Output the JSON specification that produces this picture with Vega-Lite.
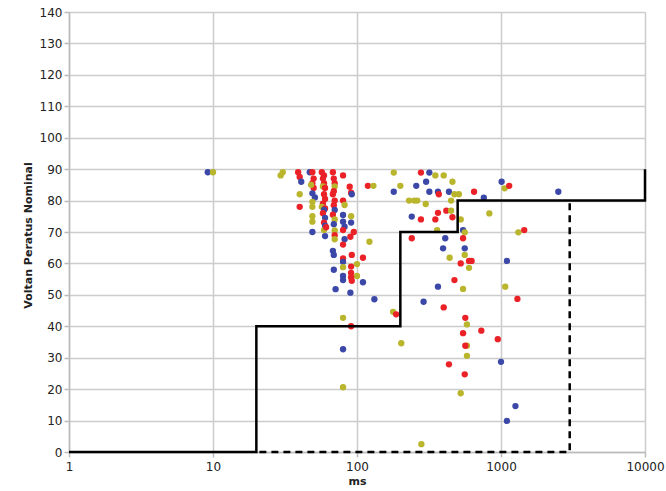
{
  "$schema": "https://vega.github.io/schema/vega-lite/v6.json",
  "width": 576,
  "height": 440,
  "autosize": {"type": "none"},
  "padding": {"left": 69, "top": 12, "right": 21, "bottom": 39},
  "background": "white",
  "config": {
    "view": {"stroke": null},
    "axis": {
      "gridColor": "#cccccc", "gridWidth": 1.5,
      "domainColor": "#bbbbbb", "domainWidth": 1.5,
      "tickColor": "#bbbbbb", "tickSize": 5, "tickWidth": 1.5,
      "labelFont": "DejaVu Sans", "labelFontSize": 12, "labelColor": "#222222",
      "titleFont": "DejaVu Sans", "titleFontSize": 11, "titleFontWeight": "bold", "titleColor": "#222222"
    }
  },
  "encoding": {
    "x": {
      "field": "ms", "type": "quantitative",
      "scale": {"type": "log", "domain": [1, 10000]},
      "axis": {"title": "ms", "values": [1, 10, 100, 1000, 10000], "format": "d", "labelPadding": 4, "titleY": 29, "titleBaseline": "middle", "labelFlush": false}
    },
    "y": {
      "field": "v", "type": "quantitative",
      "scale": {"domain": [0, 140], "nice": false, "zero": true},
      "axis": {"title": "Voltan Peratus Nominal", "values": [0,10,20,30,40,50,60,70,80,90,100,110,120,130,140], "labelPadding": 2, "titleX": -41, "titleY": 223, "titleBaseline": "middle", "titleAngle": -90, "titleAlign": "center"}
    }
  },
  "layer": [
    {
      "data": {"values": [
        {"ms": 9.2, "v": 89, "c": "b"}, {"ms": 10, "v": 89, "c": "y"}, {"ms": 29.5, "v": 88, "c": "y"}, {"ms": 30.5, "v": 89, "c": "y"},
        {"ms": 39, "v": 89, "c": "r"}, {"ms": 40, "v": 87.5, "c": "r"}, {"ms": 41, "v": 86, "c": "b"}, {"ms": 40, "v": 82, "c": "y"}, {"ms": 40, "v": 78, "c": "r"},
        {"ms": 47, "v": 89, "c": "b"}, {"ms": 49, "v": 89, "c": "r"}, {"ms": 50, "v": 87, "c": "r"}, {"ms": 49, "v": 85.5, "c": "r"}, {"ms": 50, "v": 84, "c": "r"}, {"ms": 48, "v": 85, "c": "y"}, {"ms": 49, "v": 82.3, "c": "b"}, {"ms": 51, "v": 81, "c": "b"}, {"ms": 49, "v": 79.6, "c": "y"}, {"ms": 49, "v": 78, "c": "y"}, {"ms": 49, "v": 75, "c": "y"}, {"ms": 49, "v": 73.3, "c": "y"}, {"ms": 49, "v": 70, "c": "b"},
        {"ms": 57, "v": 89, "c": "r"}, {"ms": 59, "v": 88, "c": "r"}, {"ms": 58, "v": 87, "c": "r"}, {"ms": 59, "v": 85.5, "c": "r"}, {"ms": 58, "v": 84.5, "c": "y"}, {"ms": 60, "v": 84, "c": "r"}, {"ms": 59, "v": 82, "c": "r"}, {"ms": 60, "v": 80.5, "c": "r"}, {"ms": 58, "v": 79, "c": "r"}, {"ms": 57, "v": 78, "c": "y"}, {"ms": 60, "v": 77.5, "c": "r"}, {"ms": 59, "v": 77, "c": "b"}, {"ms": 58, "v": 76, "c": "r"}, {"ms": 60, "v": 74.5, "c": "b"}, {"ms": 59, "v": 73, "c": "r"}, {"ms": 60, "v": 72, "c": "b"}, {"ms": 59, "v": 70.6, "c": "y"}, {"ms": 60, "v": 68.7, "c": "b"}, {"ms": 61, "v": 71.5, "c": "r"},
        {"ms": 68, "v": 89, "c": "r"}, {"ms": 69, "v": 87, "c": "r"}, {"ms": 70, "v": 85.5, "c": "r"}, {"ms": 70, "v": 84.5, "c": "y"}, {"ms": 69, "v": 83, "c": "r"}, {"ms": 68, "v": 82, "c": "r"}, {"ms": 70, "v": 80, "c": "r"}, {"ms": 69, "v": 78.5, "c": "r"}, {"ms": 70, "v": 77, "c": "b"}, {"ms": 68, "v": 75.5, "c": "r"}, {"ms": 70, "v": 74, "c": "y"}, {"ms": 69, "v": 72.5, "c": "b"}, {"ms": 70, "v": 70.5, "c": "y"}, {"ms": 70, "v": 69, "c": "r"}, {"ms": 70, "v": 67.7, "c": "y"}, {"ms": 68, "v": 64, "c": "b"}, {"ms": 69, "v": 62.7, "c": "b"}, {"ms": 69, "v": 58, "c": "b"}, {"ms": 71, "v": 51.8, "c": "b"},
        {"ms": 80, "v": 88, "c": "r"}, {"ms": 80, "v": 80, "c": "r"}, {"ms": 82, "v": 78.6, "c": "y"}, {"ms": 80, "v": 75.4, "c": "b"}, {"ms": 80, "v": 73.3, "c": "b"}, {"ms": 82, "v": 71.7, "c": "b"}, {"ms": 80, "v": 70.6, "c": "r"}, {"ms": 82, "v": 67.7, "c": "b"}, {"ms": 80, "v": 66, "c": "r"}, {"ms": 80, "v": 61.6, "c": "r"}, {"ms": 80, "v": 60.5, "c": "b"}, {"ms": 80, "v": 58.8, "c": "y"}, {"ms": 80, "v": 56, "c": "b"}, {"ms": 80, "v": 54.7, "c": "b"}, {"ms": 80, "v": 42.7, "c": "y"}, {"ms": 80, "v": 32.7, "c": "b"}, {"ms": 80, "v": 20.6, "c": "y"},
        {"ms": 89, "v": 84.4, "c": "r"}, {"ms": 91, "v": 82.5, "c": "r"}, {"ms": 92, "v": 82, "c": "b"}, {"ms": 91, "v": 75, "c": "y"}, {"ms": 91, "v": 73, "c": "b"}, {"ms": 95, "v": 70, "c": "r"}, {"ms": 90, "v": 68.5, "c": "r"}, {"ms": 92, "v": 62.7, "c": "r"}, {"ms": 100, "v": 59.8, "c": "y"}, {"ms": 91, "v": 59, "c": "r"}, {"ms": 91, "v": 57, "c": "r"}, {"ms": 100, "v": 56, "c": "y"}, {"ms": 91, "v": 55.6, "c": "r"}, {"ms": 92, "v": 54.5, "c": "r"}, {"ms": 90, "v": 50.7, "c": "b"}, {"ms": 91, "v": 40, "c": "r"},
        {"ms": 110, "v": 61.8, "c": "r"}, {"ms": 110, "v": 54, "c": "b"}, {"ms": 119, "v": 84.7, "c": "r"}, {"ms": 130, "v": 84.7, "c": "y"}, {"ms": 122, "v": 66.9, "c": "y"}, {"ms": 132, "v": 48.6, "c": "b"},
        {"ms": 180, "v": 88.9, "c": "y"}, {"ms": 200, "v": 84.7, "c": "y"}, {"ms": 180, "v": 82.8, "c": "b"}, {"ms": 178, "v": 44.6, "c": "y"}, {"ms": 187, "v": 43.8, "c": "r"}, {"ms": 203, "v": 34.6, "c": "y"},
        {"ms": 230, "v": 80, "c": "y"}, {"ms": 250, "v": 80, "c": "y"}, {"ms": 262, "v": 80, "c": "y"}, {"ms": 240, "v": 74.9, "c": "b"}, {"ms": 240, "v": 68, "c": "r"}, {"ms": 278, "v": 88.9, "c": "r"}, {"ms": 318, "v": 88.9, "c": "b"}, {"ms": 302, "v": 86, "c": "b"}, {"ms": 258, "v": 84.7, "c": "b"}, {"ms": 318, "v": 82.8, "c": "b"}, {"ms": 278, "v": 74, "c": "r"}, {"ms": 290, "v": 47.8, "c": "b"}, {"ms": 300, "v": 78.9, "c": "y"}, {"ms": 280, "v": 2.5, "c": "y"},
        {"ms": 350, "v": 88, "c": "y"}, {"ms": 400, "v": 88, "c": "y"}, {"ms": 365, "v": 82.8, "c": "b"}, {"ms": 370, "v": 82, "c": "r"}, {"ms": 435, "v": 82.8, "c": "b"}, {"ms": 475, "v": 82, "c": "y"}, {"ms": 460, "v": 86, "c": "y"}, {"ms": 450, "v": 80, "c": "y"}, {"ms": 350, "v": 74, "c": "r"}, {"ms": 365, "v": 76.1, "c": "r"}, {"ms": 417, "v": 76.8, "c": "r"}, {"ms": 460, "v": 74.7, "c": "r"}, {"ms": 450, "v": 76.8, "c": "y"}, {"ms": 360, "v": 70.6, "c": "y"}, {"ms": 410, "v": 68, "c": "b"}, {"ms": 396, "v": 64.8, "c": "b"}, {"ms": 440, "v": 61.8, "c": "y"}, {"ms": 475, "v": 54.7, "c": "r"}, {"ms": 365, "v": 52.6, "c": "b"}, {"ms": 400, "v": 46, "c": "r"}, {"ms": 435, "v": 27.9, "c": "r"},
        {"ms": 510, "v": 82, "c": "y"}, {"ms": 525, "v": 74, "c": "y"}, {"ms": 545, "v": 70.6, "c": "b"}, {"ms": 560, "v": 69.9, "c": "y"}, {"ms": 545, "v": 68, "c": "r"}, {"ms": 560, "v": 64.8, "c": "b"}, {"ms": 560, "v": 62.7, "c": "y"}, {"ms": 525, "v": 60, "c": "r"}, {"ms": 600, "v": 60.8, "c": "r"}, {"ms": 625, "v": 60.8, "c": "r"}, {"ms": 600, "v": 58.6, "c": "y"}, {"ms": 545, "v": 51.9, "c": "y"}, {"ms": 565, "v": 42.7, "c": "r"}, {"ms": 580, "v": 40.6, "c": "y"}, {"ms": 545, "v": 37.8, "c": "r"}, {"ms": 580, "v": 33.8, "c": "y"}, {"ms": 565, "v": 33.8, "c": "r"}, {"ms": 580, "v": 30.6, "c": "y"}, {"ms": 560, "v": 24.7, "c": "r"}, {"ms": 525, "v": 18.7, "c": "y"}, {"ms": 650, "v": 82.8, "c": "r"},
        {"ms": 760, "v": 80.9, "c": "b"}, {"ms": 830, "v": 75.9, "c": "y"}, {"ms": 730, "v": 38.6, "c": "r"}, {"ms": 950, "v": 35.9, "c": "r"}, {"ms": 1000, "v": 28.7, "c": "b"}, {"ms": 1010, "v": 86, "c": "b"}, {"ms": 1060, "v": 83.9, "c": "y"}, {"ms": 1140, "v": 84.7, "c": "r"}, {"ms": 1100, "v": 60.8, "c": "b"}, {"ms": 1070, "v": 52.6, "c": "y"}, {"ms": 1300, "v": 48.7, "c": "r"}, {"ms": 1320, "v": 69.9, "c": "y"}, {"ms": 1450, "v": 70.6, "c": "r"}, {"ms": 1260, "v": 14.6, "c": "b"}, {"ms": 1100, "v": 9.9, "c": "b"}, {"ms": 2500, "v": 82.8, "c": "b"}
      ]},
      "mark": {"type": "circle", "size": 40, "opacity": 1},
      "encoding": {
        "color": {"field": "c", "type": "nominal", "scale": {"domain": ["b", "r", "y"], "range": ["#3b48a8", "#ea2228", "#b9b52c"]}, "legend": null}
      }
    },
    {
      "data": {"values": [
        {"ms": 1, "v": 0, "i": 1}, {"ms": 20, "v": 0, "i": 2}, {"ms": 20, "v": 40, "i": 3}, {"ms": 200, "v": 40, "i": 4}, {"ms": 200, "v": 70, "i": 5}, {"ms": 500, "v": 70, "i": 6}, {"ms": 500, "v": 80, "i": 7}, {"ms": 10000, "v": 80, "i": 8}, {"ms": 10000, "v": 90, "i": 9}
      ]},
      "mark": {"type": "line", "color": "#000000", "strokeWidth": 2.5},
      "encoding": {"order": {"field": "i", "type": "quantitative"}}
    },
    {
      "data": {"values": [
        {"ms": 21, "v": 0, "i": 1}, {"ms": 3000, "v": 0, "i": 2}, {"ms": 3000, "v": 80, "i": 3}
      ]},
      "mark": {"type": "line", "color": "#000000", "strokeWidth": 2.5, "strokeDash": [7, 5]},
      "encoding": {"order": {"field": "i", "type": "quantitative"}}
    }
  ]
}
